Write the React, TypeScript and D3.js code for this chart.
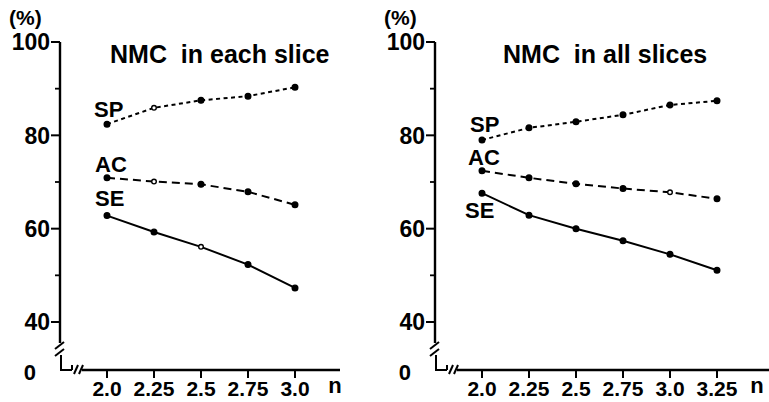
import React, { useEffect, useRef } from "react";
import * as d3 from "d3";

// values (percent vs n)
const nLeft = [2.0, 2.25, 2.5, 2.75, 3.0];
const nRight = [2.0, 2.25, 2.5, 2.75, 3.0, 3.25];
const xLabelsLeft = ["2.0", "2.25", "2.5", "2.75", "3.0"];
const xLabelsRight = ["2.0", "2.25", "2.5", "2.75", "3.0", "3.25"];

const leftSP = [82.4, 85.9, 87.5, 88.4, 90.3];
const leftAC = [70.9, 70.1, 69.5, 67.9, 65.1];
const leftSE = [62.8, 59.3, 56.1, 52.3, 47.3];

const rightSP = [79.0, 81.6, 82.9, 84.4, 86.5, 87.4];
const rightAC = [72.4, 70.9, 69.6, 68.6, 67.8, 66.4];
const rightSE = [67.6, 62.9, 60.0, 57.4, 54.5, 51.1];

// points drawn hollow in the original
const leftOpen = { SP: [1], AC: [1], SE: [2] };
const rightOpen = { SP: [], AC: [4], SE: [] };

const yTicks = [40, 60, 80, 100];
const yMinor = [50, 70, 90];

const FONT = "'Liberation Sans', Arial, sans-serif";

function Panel({ ox, n, labels, sp, ac, se, open, title, axisEnd, lab }) {
  const ref = useRef(null);

  useEffect(() => {
    const g = d3.select(ref.current);
    g.selectAll("*").remove();

    const axisX = ox;
    const x = d3
      .scaleLinear()
      .domain([2.0, 2.25])
      .range([axisX + 47, axisX + 94]);
    const y = d3.scaleLinear().domain([40, 100]).range([322, 42]);
    const baseY = 370;

    // y axis
    g.append("line")
      .attr("x1", axisX).attr("x2", axisX)
      .attr("y1", y(100)).attr("y2", 343)
      .attr("stroke", "#000").attr("stroke-width", 2.4);

    yTicks.forEach((t) => {
      g.append("line")
        .attr("x1", axisX - 9).attr("x2", axisX)
        .attr("y1", y(t)).attr("y2", y(t))
        .attr("stroke", "#000").attr("stroke-width", 2);
      g.append("text")
        .attr("x", axisX - 10).attr("y", y(t))
        .attr("dy", "0.36em")
        .attr("text-anchor", "end")
        .style("font-family", FONT).style("font-weight", "bold")
        .style("font-size", "23px")
        .text(t);
    });
    yMinor.forEach((t) => {
      g.append("line")
        .attr("x1", axisX - 5).attr("x2", axisX)
        .attr("y1", y(t)).attr("y2", y(t))
        .attr("stroke", "#000").attr("stroke-width", 1.8);
    });

    // broken axis marks
    const brk = g.append("g").attr("stroke", "#000").attr("stroke-width", 2).attr("fill", "none");
    brk.append("line").attr("x1", axisX - 5).attr("y1", 349).attr("x2", axisX + 4).attr("y2", 342);
    brk.append("line").attr("x1", axisX - 5).attr("y1", 356).attr("x2", axisX + 4).attr("y2", 349);
    brk.append("path").attr("d", `M${axisX + 1},355 L${axisX + 1},${baseY} L${axisX + 12},${baseY} M${axisX + 12},${baseY} L${axisX + 12},${baseY - 5}`);
    brk.append("line").attr("x1", axisX + 14).attr("y1", baseY + 4).attr("x2", axisX + 18).attr("y2", baseY - 5);
    brk.append("line").attr("x1", axisX + 19).attr("y1", baseY + 4).attr("x2", axisX + 23).attr("y2", baseY - 5);

    g.append("text")
      .attr("x", axisX - 24).attr("y", baseY + 2)
      .attr("dy", "0.36em").attr("text-anchor", "end")
      .style("font-family", FONT).style("font-weight", "bold").style("font-size", "22px")
      .text("0");

    g.append("text")
      .attr("x", axisX - 51).attr("y", 25)
      .style("font-family", FONT).style("font-weight", "bold").style("font-size", "21px")
      .text("(%)");

    // x axis
    g.append("line")
      .attr("x1", axisX + 22).attr("x2", axisEnd)
      .attr("y1", baseY).attr("y2", baseY)
      .attr("stroke", "#000").attr("stroke-width", 2.4);

    n.forEach((v, i) => {
      g.append("line")
        .attr("x1", x(v)).attr("x2", x(v))
        .attr("y1", baseY).attr("y2", baseY + 8)
        .attr("stroke", "#000").attr("stroke-width", 2);
      g.append("text")
        .attr("x", x(v)).attr("y", 396)
        .attr("text-anchor", "middle")
        .style("font-family", FONT).style("font-weight", "bold").style("font-size", "21px")
        .text(labels[i]);
    });

    g.append("text")
      .attr("x", x(n[n.length - 1]) + 40).attr("y", 393)
      .attr("text-anchor", "middle")
      .style("font-family", FONT).style("font-weight", "bold").style("font-size", "22px")
      .text("n");

    g.append("text")
      .attr("x", lab.titleX).attr("y", 63)
      .style("font-family", FONT).style("font-weight", "bold").style("font-size", "25px")
      .style("white-space", "pre")
      .text(title);

    const line = d3.line().x((d) => x(d[0])).y((d) => y(d[1]));

    const series = [
      { key: "SP", vals: sp, dash: "4,3.5", lx: lab.sp[0], ly: lab.sp[1] },
      { key: "AC", vals: ac, dash: "8,5", lx: lab.ac[0], ly: lab.ac[1] },
      { key: "SE", vals: se, dash: null, lx: lab.se[0], ly: lab.se[1] },
    ];

    series.forEach((s) => {
      const pts = n.map((v, i) => [v, s.vals[i]]);
      g.append("path")
        .attr("d", line(pts))
        .attr("fill", "none")
        .attr("stroke", "#000")
        .attr("stroke-width", 2)
        .attr("stroke-dasharray", s.dash);

      g.selectAll(null)
        .data(pts)
        .join("circle")
        .attr("cx", (d) => x(d[0]))
        .attr("cy", (d) => y(d[1]))
        .attr("r", (d, i) => (open[s.key].includes(i) ? 2.3 : 2.8))
        .attr("fill", (d, i) => (open[s.key].includes(i) ? "#fff" : "#000"))
        .attr("stroke", "#000")
        .attr("stroke-width", 1.4);

      g.append("text")
        .attr("x", s.lx).attr("y", s.ly)
        .style("font-family", FONT).style("font-weight", "bold").style("font-size", "22px")
        .text(s.key);
    });
  }, []);

  return <g ref={ref}></g>;
}

export default function App() {
  return (
    <svg
      width={769}
      height={402}
      style={{ position: "absolute", left: 0, top: 0, background: "#fff" }}
    >
      <Panel
        ox={60}
        n={nLeft}
        labels={xLabelsLeft}
        sp={leftSP}
        ac={leftAC}
        se={leftSE}
        open={leftOpen}
        title={"NMC  in each slice"}
        axisEnd={340}
        lab={{ titleX: 110, sp: [94, 117], ac: [95, 172], se: [95, 206] }}
      />
      <Panel
        ox={435}
        n={nRight}
        labels={xLabelsRight}
        sp={rightSP}
        ac={rightAC}
        se={rightSE}
        open={rightOpen}
        title={"NMC  in all slices"}
        axisEnd={769}
        lab={{ titleX: 503, sp: [470, 132], ac: [468, 165], se: [465, 218] }}
      />
    </svg>
  );
}
